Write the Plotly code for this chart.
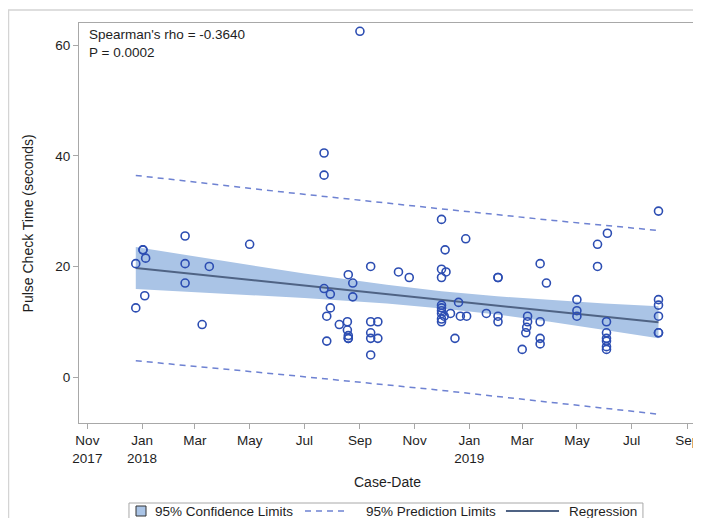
import plotly.graph_objects as go

# ---- data ----
case_dates = [
    "2017-12-25", "2017-12-25", "2018-01-02", "2018-01-02", "2018-01-05", "2018-01-04",
    "2018-02-18", "2018-02-18", "2018-02-18", "2018-03-09", "2018-03-17", "2018-05-01",
    "2018-07-23", "2018-07-23", "2018-07-23", "2018-07-26", "2018-07-26", "2018-07-30",
    "2018-07-30", "2018-08-09", "2018-08-18", "2018-08-18", "2018-08-19", "2018-08-19",
    "2018-08-19", "2018-08-19", "2018-08-24", "2018-08-24", "2018-09-01", "2018-09-13",
    "2018-09-13", "2018-09-13", "2018-09-13", "2018-09-13", "2018-09-21", "2018-09-21",
    "2018-10-14", "2018-10-26", "2018-12-01", "2018-12-01", "2018-12-01", "2018-12-01",
    "2018-12-01", "2018-12-01", "2018-12-01", "2018-12-01", "2018-12-01", "2018-12-05",
    "2018-12-06", "2018-12-04", "2018-12-11", "2018-12-16", "2018-12-20", "2018-12-22",
    "2018-12-28", "2018-12-29", "2019-01-20", "2019-02-02", "2019-02-02", "2019-02-02",
    "2019-02-02", "2019-03-01", "2019-03-07", "2019-03-07", "2019-03-06", "2019-03-05",
    "2019-03-21", "2019-03-21", "2019-03-21", "2019-03-21", "2019-03-28", "2019-05-01",
    "2019-05-01", "2019-05-01", "2019-05-24", "2019-05-24", "2019-06-03", "2019-06-03",
    "2019-06-03", "2019-06-03", "2019-06-03", "2019-06-03", "2019-06-04", "2019-07-31",
    "2019-07-31", "2019-07-31", "2019-07-31", "2019-07-31", "2019-07-31",
]
pulse_check_seconds = [
    20.5, 12.5, 23.0, 23.0, 21.5, 14.7,
    25.5, 20.5, 17.0, 9.5, 20.0, 24.0,
    40.5, 36.5, 16.0, 11.0, 6.5, 15.0,
    12.5, 9.5, 10.0, 8.5, 7.5, 7.0,
    7.0, 18.5, 17.0, 14.5, 62.5, 20.0,
    10.0, 8.0, 7.0, 4.0, 10.0, 7.0,
    19.0, 18.0, 28.5, 19.5, 18.0, 13.0,
    12.5, 12.0, 11.5, 10.5, 10.0, 23.0,
    19.0, 11.0, 11.5, 7.0, 13.5, 11.0,
    25.0, 11.0, 11.5, 18.0, 18.0, 11.0,
    10.0, 5.0, 11.0, 10.0, 9.0, 8.0,
    20.5, 10.0, 7.0, 6.0, 17.0, 14.0,
    12.0, 11.0, 24.0, 20.0, 10.0, 8.0,
    7.0, 6.5, 5.5, 5.0, 26.0, 30.0,
    14.0, 13.0, 11.0, 8.0, 8.0,
]

reg_dates = ["2017-12-25", "2019-07-31"]
reg_values = [19.7, 9.9]

clm_dates = ["2017-12-25", "2018-04-01", "2018-07-01", "2018-10-01", "2018-12-01",
             "2019-02-01", "2019-04-01", "2019-06-01", "2019-07-31"]
clm_upper = [23.5, 21.0, 18.7, 16.7, 15.5, 14.6, 13.9, 13.3, 12.8]
clm_lower = [15.9, 15.1, 14.3, 13.3, 12.4, 11.3, 10.0, 8.5, 7.0]

plm_dates = ["2017-12-25", "2018-06-10", "2018-12-01", "2019-04-05", "2019-07-31"]
plm_upper = [36.45, 33.4, 30.4, 28.3, 26.5]
plm_lower = [2.95, 0.4, -2.4, -4.6, -6.7]

x_tick_vals = ["2017-11-01", "2018-01-01", "2018-03-01", "2018-05-01", "2018-07-01",
               "2018-09-01", "2018-11-01", "2019-01-01", "2019-03-01", "2019-05-01",
               "2019-07-01", "2019-09-01"]
x_tick_text = ["Nov<br>2017", "Jan<br>2018", "Mar", "May", "Jul", "Sep", "Nov",
               "Jan<br>2019", "Mar", "May", "Jul", "Sep"]
y_tick_vals = [0, 20, 40, 60]

legend_labels = ["95% Confidence Limits", "95% Prediction Limits", "Regression"]

# ---- styles ----
FONT = "Liberation Sans, Arial, sans-serif"
TEXT_COLOR = "#1E1E1E"
MARKER_COLOR = "#2C4DB2"
REG_COLOR = "#4F6384"
CLM_COLOR = "rgb(170,196,230)"
PLM_COLOR = "#6E82D2"
FRAME_COLOR = "#A8A8A8"
PLM_DASH = "6px,5px"

fig = go.Figure()

fig.add_trace(go.Scatter(
    x=clm_dates, y=clm_upper, mode="lines", line=dict(width=0, color=CLM_COLOR),
    showlegend=False, hoverinfo="skip"))
fig.add_trace(go.Scatter(
    x=clm_dates, y=clm_lower, mode="lines", line=dict(width=0, color=CLM_COLOR),
    fill="tonexty", fillcolor=CLM_COLOR, name=legend_labels[0], showlegend=False))

fig.add_trace(go.Scatter(
    x=plm_dates, y=plm_upper, mode="lines",
    line=dict(color=PLM_COLOR, width=1.5, dash=PLM_DASH),
    name=legend_labels[1], showlegend=False))
fig.add_trace(go.Scatter(
    x=plm_dates, y=plm_lower, mode="lines",
    line=dict(color=PLM_COLOR, width=1.5, dash=PLM_DASH),
    name=legend_labels[1], showlegend=False))

fig.add_trace(go.Scatter(
    x=reg_dates, y=reg_values, mode="lines", line=dict(color=REG_COLOR, width=2),
    name=legend_labels[2], showlegend=False))

fig.add_trace(go.Scatter(
    x=case_dates, y=pulse_check_seconds, mode="markers",
    marker=dict(symbol="circle-open", size=8, color=MARKER_COLOR, line=dict(width=1.6)),
    showlegend=False, name="Pulse Check Time"))

# legend drawn as a boxed key below the plot (paper coordinates)
LEG_Y = -0.22
shapes = [
    dict(type="rect", xref="paper", yref="paper",
         x0=-0.1143, x1=1.2, y0=-0.4, y1=1.0325,
         line=dict(color="#D4D4D4", width=1.5), layer="below"),
    dict(type="rect", xref="paper", yref="paper", x0=0.081, x1=0.914, y0=-0.29, y1=-0.2,
         line=dict(color="#A8A8A8", width=1)),
    dict(type="rect", xref="paper", yref="paper", x0=0.0924, x1=0.1086,
         y0=LEG_Y - 0.0125, y1=LEG_Y + 0.0125,
         fillcolor=CLM_COLOR, line=dict(color="#333333", width=1)),
    dict(type="line", xref="paper", yref="paper", x0=0.3663, x1=0.4311, y0=LEG_Y, y1=LEG_Y,
         line=dict(color=PLM_COLOR, width=1.5, dash=PLM_DASH)),
    dict(type="line", xref="paper", yref="paper", x0=0.6920, x1=0.7780, y0=LEG_Y, y1=LEG_Y,
         line=dict(color=REG_COLOR, width=2)),
]

legend_text_x = [0.1199, 0.4619, 0.7913]
annotations = [
    dict(text="Spearman's rho = -0.3640<br>P = 0.0002", xref="paper", yref="paper",
         x=0.013, y=0.995, xanchor="left", yanchor="top", align="left",
         showarrow=False, font=dict(size=13.5, color=TEXT_COLOR)),
    dict(text="Pulse Check Time (seconds)", xref="paper", yref="paper",
         x=-0.082, y=0.5, xanchor="center", yanchor="middle", textangle=-90,
         showarrow=False, font=dict(size=14, color=TEXT_COLOR)),
    dict(text="Case-Date", xref="paper", yref="paper",
         x=0.5, y=-0.147, xanchor="center", yanchor="middle",
         showarrow=False, font=dict(size=14, color=TEXT_COLOR)),
]
for lbl, lx in zip(legend_labels, legend_text_x):
    annotations.append(dict(text=lbl, xref="paper", yref="paper", x=lx, y=LEG_Y,
                            xanchor="left", yanchor="middle", showarrow=False,
                            font=dict(size=13.5, color=TEXT_COLOR)))

# the page shows the figure inside the default 8px body margin,
# so size it to the visible part of the 701x518 window
fig.update_layout(
    width=693, height=510,
    margin=dict(l=71, r=5, t=15, b=95, autoexpand=False),
    paper_bgcolor="white", plot_bgcolor="white",
    font=dict(family=FONT, size=13, color=TEXT_COLOR),
    showlegend=False,
    xaxis=dict(
        type="date", range=["2017-10-22 16:00", "2019-09-10 20:00"],
        tickmode="array", tickvals=x_tick_vals, ticktext=x_tick_text,
        ticks="outside", ticklen=5, tickcolor=FRAME_COLOR, tickwidth=1,
        showgrid=False, zeroline=False, automargin=False,
        showline=True, mirror=True, linecolor=FRAME_COLOR, linewidth=1.2,
        tickfont=dict(size=13.5, color=TEXT_COLOR),
    ),
    yaxis=dict(
        range=[-8.3, 64.0], tickmode="array", tickvals=y_tick_vals,
        ticks="outside", ticklen=5, tickcolor=FRAME_COLOR, tickwidth=1,
        showgrid=False, zeroline=False, automargin=False,
        showline=True, mirror=True, linecolor=FRAME_COLOR, linewidth=1.2,
        tickfont=dict(size=13.5, color=TEXT_COLOR),
    ),
    annotations=annotations,
    shapes=shapes,
)

fig.write_html("out.html")
